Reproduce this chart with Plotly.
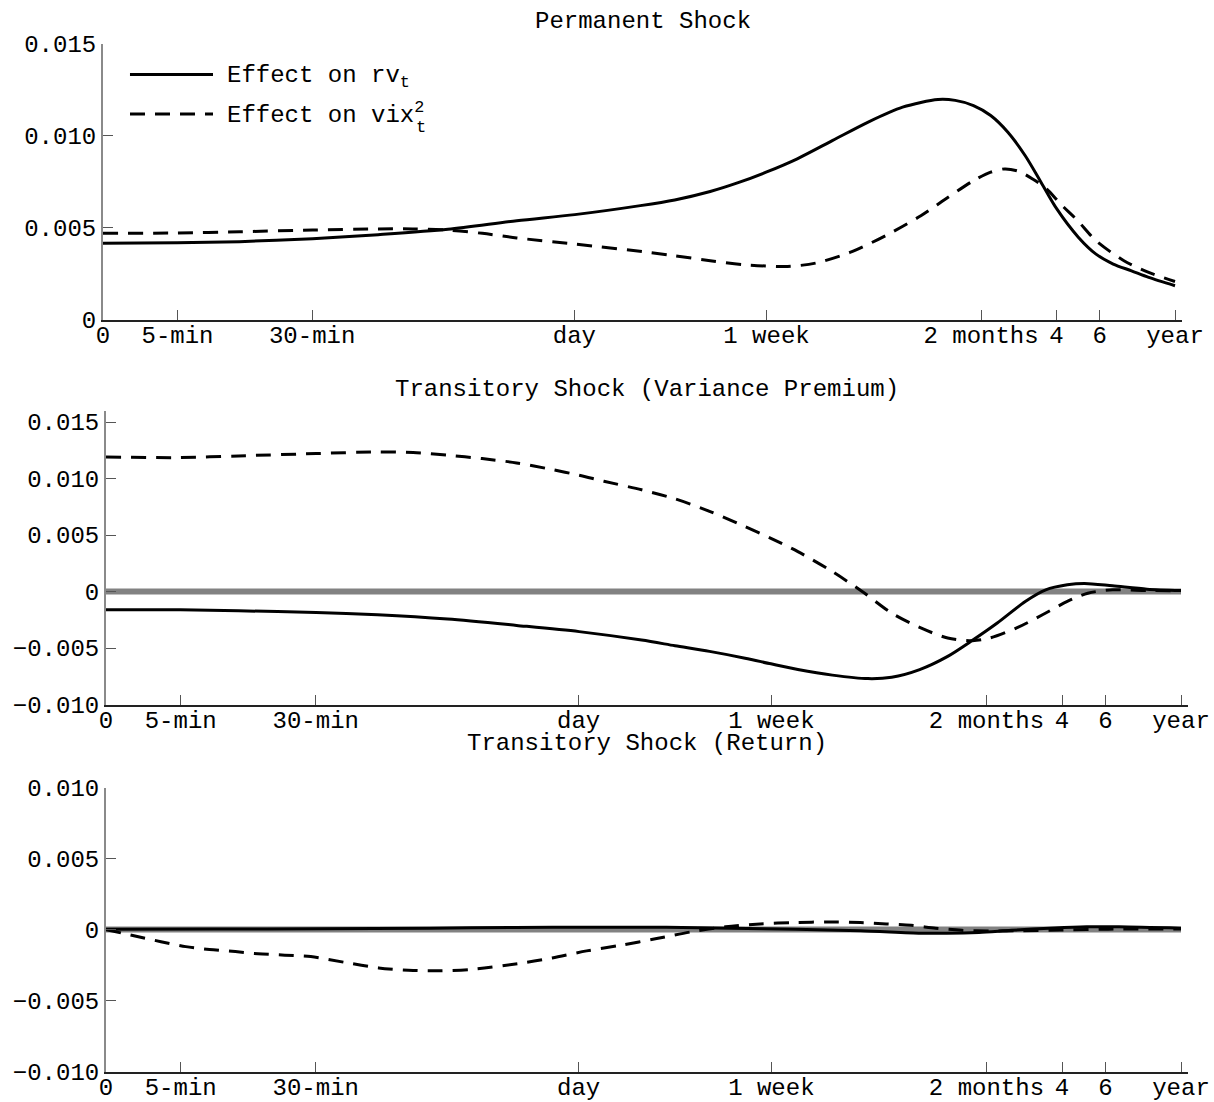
import plotly.graph_objects as go

# ---------------- data ----------------
# x axis: log-horizon units (position of each tick label)
tick_pos = [0, 0.693, 1.946, 4.386, 6.174, 8.17, 8.871, 9.274, 9.975]
tick_labels = ["0", "5-min", "30-min", "day", "1 week", "2 months", "4", "6", "year"]

# Panel 1: Permanent Shock
perm_rv_x = [0, 0.69, 1.27, 1.95, 2.56, 3.21, 3.85, 4.39, 5.0, 5.32, 5.65, 5.91, 6.17, 6.46, 6.79,
             7.12, 7.44, 7.77, 7.93, 8.10, 8.26, 8.42, 8.58, 8.72, 8.875, 9.077, 9.24, 9.40, 9.57,
             9.73, 9.975]
perm_rv = [0.00415, 0.00418, 0.00424, 0.0044, 0.00462, 0.00491, 0.00538, 0.00571, 0.0062, 0.00651,
           0.00697, 0.00745, 0.00802, 0.00875, 0.00975, 0.01075, 0.01156, 0.01198, 0.01193, 0.01165,
           0.01111, 0.0102, 0.00893, 0.00756, 0.00602, 0.00447, 0.00356, 0.00302, 0.00265, 0.00229,
           0.00184]
perm_vix_x = [0, 0.69, 1.27, 1.95, 2.56, 2.88, 3.21, 3.53, 3.85, 4.39, 5.09, 5.32, 5.65, 5.97,
              6.37, 6.63, 6.95, 7.28, 7.61, 7.84, 8.10, 8.26, 8.39, 8.52, 8.65, 8.78, 8.91, 9.07,
              9.24, 9.50, 9.73, 9.975]
perm_vix = [0.00469, 0.00471, 0.00478, 0.00487, 0.00493, 0.00493, 0.00487, 0.00469, 0.00444, 0.00411,
            0.00365, 0.00347, 0.0032, 0.00298, 0.00289, 0.00307, 0.00365, 0.00456, 0.00565, 0.00656,
            0.00756, 0.00802, 0.0082, 0.00807, 0.00765, 0.00711, 0.00629, 0.00538, 0.00429, 0.0032,
            0.00256, 0.00207]

# Panel 2: Transitory Shock (Variance Premium)
vp_rv_x = [0, 0.69, 1.23, 1.95, 2.52, 3.17, 3.81, 4.39, 4.97, 5.28, 5.6, 5.93, 6.17, 6.42, 6.74,
           7.07, 7.29, 7.55, 7.81, 8.04, 8.27, 8.53, 8.72, 8.92, 9.08, 9.34, 9.66, 9.975]
vp_rv = [-0.00162, -0.00162, -0.00171, -0.00185, -0.00206, -0.00244, -0.003, -0.00355, -0.0043,
         -0.0048, -0.0053, -0.0059, -0.0064, -0.0069, -0.0074, -0.00771, -0.00759, -0.00691,
         -0.00574, -0.00432, -0.00279, -0.00088, 0.00015, 0.00059, 0.00071, 0.0005, 0.00021, 0.00009]
vp_vix_x = [0, 0.69, 1.23, 1.95, 2.52, 2.85, 3.17, 3.49, 3.81, 4.14, 4.39, 4.62, 4.97, 5.28, 5.6,
            5.93, 6.17, 6.42, 6.74, 7.03, 7.29, 7.55, 7.81, 8.04, 8.2, 8.46, 8.69, 8.92, 9.11, 9.34,
            9.66, 9.975]
vp_vix = [0.01191, 0.01185, 0.012, 0.01221, 0.01235, 0.01229, 0.01206, 0.01176, 0.01138, 0.01079,
          0.01029, 0.00976, 0.0090, 0.0082, 0.0071, 0.00574, 0.00471, 0.00353, 0.00176, -0.00009,
          -0.00191, -0.00318, -0.00412, -0.00435, -0.00412, -0.00318, -0.00206, -0.00088, -0.00015,
          0.00015, 0.00009, 0.00006]

# Panel 3: Transitory Shock (Return)
ret_rv_x = [0, 1.0, 2.0, 3.0, 3.8, 4.5, 5.2, 5.8, 6.4, 7.0, 7.56, 7.8, 8.1, 8.4, 8.8, 9.1, 9.4, 9.975]
ret_rv = [0.00003, 0.00004, 0.00006, 0.0001, 0.00015, 0.00017, 0.00016, 0.0001, 0.00002, -0.00008,
          -0.00025, -0.00026, -0.0002, -0.00005, 0.00012, 0.0002, 0.0002, 0.0001]
ret_vix_x = [0, 0.28, 0.51, 0.74, 0.96, 1.2, 1.41, 1.66, 1.9, 2.21, 2.53, 2.85, 3.1, 3.4, 3.82, 4.14,
             4.46, 4.78, 5.11, 5.43, 5.75, 6.07, 6.4, 6.7, 7.0, 7.24, 7.47, 7.7, 7.94, 8.2, 8.5,
             8.85, 9.3, 9.975]
ret_vix = [0, -0.00047, -0.00085, -0.0012, -0.0014, -0.00155, -0.0017, -0.0018, -0.0019, -0.0023,
           -0.0027, -0.00288, -0.0029, -0.0028, -0.0024, -0.002, -0.0015, -0.0011, -0.00063, -0.00016,
           0.0002, 0.0004, 0.0005, 0.00054, 0.0005, 0.0004, 0.0003, 0.0001, -0.00005, -0.0001,
           -0.00008, -0.00003, 0.00003, 0.00005]

titles = ["Permanent Shock", "Transitory Shock (Variance Premium)", "Transitory Shock (Return)"]
legend_names = ["Effect on rv<sub>t</sub>", "Effect on vix<sup>2</sup>"]

y1_ticks = [0, 0.005, 0.010, 0.015]
y1_text = ["0", "0.005", "0.010", "0.015"]
y2_ticks = [-0.010, -0.005, 0, 0.005, 0.010, 0.015]
y2_text = ["\u22120.010", "\u22120.005", "0", "0.005", "0.010", "0.015"]
y3_ticks = [-0.010, -0.005, 0, 0.005, 0.010]
y3_text = ["\u22120.010", "\u22120.005", "0", "0.005", "0.010"]

# ---------------- figure ----------------
W, H = 1214, 1102
FONT = "Liberation Mono, Courier New, monospace"
FS = 24
XR = [0, 10.04]

fig = go.Figure()

solid = dict(color="black", width=3)
dashed = dict(color="black", width=3, dash="15px,10px")
zero = dict(color="#828282", width=6)

# zero reference lines (panels 2 & 3)
for ax in ["2", "3"]:
    fig.add_trace(go.Scatter(x=[tick_pos[0], tick_pos[-1]], y=[0, 0], mode="lines", line=zero,
                             xaxis="x" + ax, yaxis="y" + ax, showlegend=False, hoverinfo="skip"))

series = [(perm_rv_x, perm_rv, solid, "x", "y"), (perm_vix_x, perm_vix, dashed, "x", "y"),
          (vp_rv_x, vp_rv, solid, "x2", "y2"), (vp_vix_x, vp_vix, dashed, "x2", "y2"),
          (ret_rv_x, ret_rv, solid, "x3", "y3"), (ret_vix_x, ret_vix, dashed, "x3", "y3")]
for sx, sy, ln, xa, ya in series:
    fig.add_trace(go.Scatter(x=sx, y=sy, mode="lines", line=dict(**ln, shape="spline", smoothing=0.8),
                             xaxis=xa, yaxis=ya, showlegend=False))


def xaxis(domain, anchor):
    return dict(domain=domain, anchor=anchor, range=XR, tickmode="array", tickvals=tick_pos,
                ticktext=tick_labels, ticks="inside", ticklen=10, tickwidth=1, tickcolor="#555555",
                showline=True, linecolor="#222222", linewidth=2, showgrid=False, zeroline=False,
                automargin=False, ticklabelstandoff=-7,
                tickfont=dict(family=FONT, size=FS, color="black"), fixedrange=True)


def yaxis(domain, anchor, rng, tv, tt):
    return dict(domain=domain, anchor=anchor, range=rng, tickmode="array", tickvals=tv, ticktext=tt,
                ticks="inside", ticklen=10, tickwidth=1, tickcolor="#555555", showline=True,
                linecolor="#8a8a8a", linewidth=2, showgrid=False, zeroline=False, automargin=False,
                tickfont=dict(family=FONT, size=FS, color="black"), fixedrange=True)


dx1 = [103 / W, 1182 / W]
dx2 = [106 / W, 1188 / W]
dy1 = [1 - 319.5 / H, 1 - 44 / H]
dy2 = [1 - 704.5 / H, 1 - 410.7 / H]
dy3 = [1 - 1071.5 / H, 1 - 787.7 / H]

fig.update_layout(
    width=W, height=H, paper_bgcolor="white", plot_bgcolor="white",
    margin=dict(l=0, r=0, t=0, b=0, autoexpand=False), showlegend=False,
    font=dict(family=FONT, size=FS, color="black"),
    xaxis=xaxis(dx1, "y"), yaxis=yaxis(dy1, "x", [0, 0.015], y1_ticks, y1_text),
    xaxis2=xaxis(dx2, "y2"), yaxis2=yaxis(dy2, "x2", [-0.010, 0.016], y2_ticks, y2_text),
    xaxis3=xaxis(dx2, "y3"), yaxis3=yaxis(dy3, "x3", [-0.010, 0.010], y3_ticks, y3_text),
)

# titles
title_pos = [((dx1[0] + dx1[1]) / 2, 1 - 22 / H), ((dx2[0] + dx2[1]) / 2, 1 - 389 / H),
             ((dx2[0] + dx2[1]) / 2, 1 - 743 / H)]
for t, (tx, ty) in zip(titles, title_pos):
    fig.add_annotation(text=t, x=tx, y=ty, xref="paper", yref="paper", showarrow=False,
                       xanchor="center", yanchor="middle", font=dict(family=FONT, size=FS, color="black"))

# legend (drawn inside the top panel)
leg_x0, leg_x1, leg_tx = 0.251, 1.0235, 1.135
leg_line_y = [0.01334, 0.01119]
leg_text_y = [0.01318, 0.01119]
fig.add_shape(type="line", x0=leg_x0, x1=leg_x1, y0=leg_line_y[0], y1=leg_line_y[0], xref="x", yref="y",
              line=dict(color="black", width=3))
fig.add_shape(type="line", x0=leg_x0, x1=leg_x1, y0=leg_line_y[1], y1=leg_line_y[1], xref="x", yref="y",
              line=dict(color="black", width=3, dash="15px,10px"))
for name, ly in zip(legend_names, leg_text_y):
    fig.add_annotation(text=name, x=leg_tx, y=ly, xref="x", yref="y", showarrow=False,
                       xanchor="left", yanchor="middle", font=dict(family=FONT, size=FS, color="black"))
fig.add_annotation(text="t", x=2.89, y=0.01045, xref="x", yref="y", showarrow=False,
                   xanchor="left", yanchor="middle", font=dict(family=FONT, size=17, color="black"))

fig.write_html("out.html")
